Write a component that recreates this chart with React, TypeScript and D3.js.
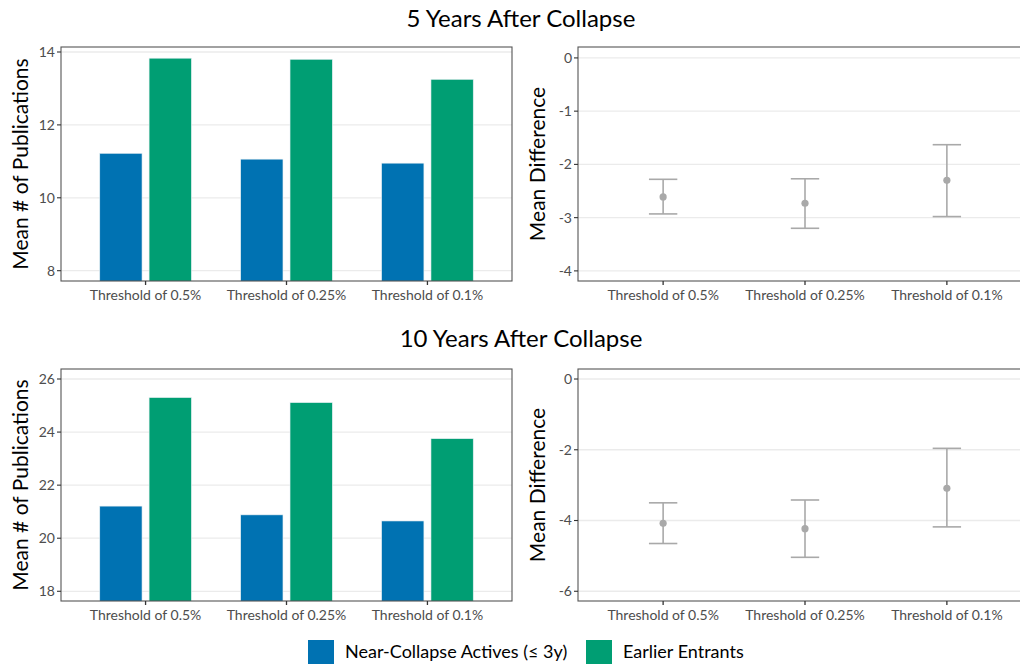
import React from 'react';
import * as d3 from 'd3';

// categories and series
const thresholds = ['Threshold of 0.5%', 'Threshold of 0.25%', 'Threshold of 0.1%'];
const groups = ['Near-Collapse Actives (≤ 3y)', 'Earlier Entrants'];
const groupColors = ['#0072B2', '#009E73'];

// 5 years after collapse
const nearActives5 = [11.22, 11.06, 10.95];
const earlier5 = [13.83, 13.8, 13.25];
const diff5 = [-2.61, -2.73, -2.3];
const diff5Low = [-2.93, -3.2, -2.98];
const diff5High = [-2.28, -2.27, -1.63];
const barTicks5 = [8, 10, 12, 14];
const diffTicks5 = [0, -1, -2, -3, -4];

// 10 years after collapse
const nearActives10 = [21.21, 20.88, 20.65];
const earlier10 = [25.3, 25.11, 23.75];
const diff10 = [-4.08, -4.23, -3.09];
const diff10Low = [-4.65, -5.04, -4.18];
const diff10High = [-3.5, -3.42, -1.96];
const barTicks10 = [18, 20, 22, 24, 26];
const diffTicks10 = [0, -2, -4, -6];

const FONT = 'Lato, "Open Sans", sans-serif';
const GRID = '#EBEBEB';
const BORDER = '#555';
const TICK_TXT = '#4D4D4D';
const ERR = '#A9A9A9';

type Box = { x0: number; x1: number; y0: number; y1: number };

const Frame = ({ box, y, ticks, title, children, x }: any) => (
  <g>
    {ticks.map((t: number) => (
      <line key={'g' + t} x1={box.x0} x2={box.x1} y1={y(t)} y2={y(t)} stroke={GRID} strokeWidth={1.3} />
    ))}
    {children}
    <rect x={box.x0} y={box.y0} width={box.x1 - box.x0} height={box.y1 - box.y0} fill="none" stroke={BORDER} strokeWidth={1.1} />
    {ticks.map((t: number) => (
      <g key={'t' + t}>
        <line x1={box.x0 - 4} x2={box.x0} y1={y(t)} y2={y(t)} stroke="#333" strokeWidth={1.1} />
        <text x={box.x0 - 6} y={y(t)} dy="0.35em" textAnchor="end" fontSize={14} fill={TICK_TXT} fontFamily={FONT}>
          {t}
        </text>
      </g>
    ))}
    {thresholds.map((c) => (
      <g key={c}>
        <line x1={x(c)} x2={x(c)} y1={box.y1} y2={box.y1 + 4} stroke="#333" strokeWidth={1.3} />
        <text x={x(c)} y={box.y1 + 19} textAnchor="middle" fontSize={14} fill={TICK_TXT} fontFamily={FONT}>
          {c}
        </text>
      </g>
    ))}
    <text
      transform={`translate(${box.x0 - 33},${(box.y0 + box.y1) / 2}) rotate(-90)`}
      textAnchor="middle"
      fontSize={21}
      fill="#000"
      fontFamily={FONT}
    >
      {title}
    </text>
  </g>
);

const BarPanel = ({ box, a, b, domain, ticks }: { box: Box; a: number[]; b: number[]; domain: number[]; ticks: number[] }) => {
  const x = d3.scalePoint<string>().domain(thresholds).range([box.x0, box.x1]).padding(0.6);
  const y = d3.scaleLinear().domain(domain).range([box.y1, box.y0]);
  const step = x.step();
  const offsets = [-0.175, 0.175];
  const barW = 0.3 * step;
  const clipId = `clip-${box.x0}-${box.y0}`;
  return (
    <Frame box={box} y={y} ticks={ticks} title="Mean # of Publications" x={x}>
      <clipPath id={clipId}>
        <rect x={box.x0} y={box.y0} width={box.x1 - box.x0} height={box.y1 - box.y0} />
      </clipPath>
      <g clipPath={`url(#${clipId})`}>
        {[a, b].map((vals, gi) =>
          vals.map((v, i) => {
            const cx = (x(thresholds[i]) as number) + offsets[gi] * step;
            return (
              <rect
                key={gi + '-' + i}
                x={cx - barW / 2}
                y={y(v)}
                width={barW}
                height={box.y1 + 10 - y(v)}
                fill={groupColors[gi]}
                stroke="#e6eef2"
                strokeWidth={0.6}
              />
            );
          })
        )}
      </g>
    </Frame>
  );
};

const DiffPanel = ({ box, mid, lo, hi, domain, ticks }: { box: Box; mid: number[]; lo: number[]; hi: number[]; domain: number[]; ticks: number[] }) => {
  const x = d3.scalePoint<string>().domain(thresholds).range([box.x0, box.x1]).padding(0.6);
  const y = d3.scaleLinear().domain(domain).range([box.y1, box.y0]);
  const capW = 0.2 * x.step();
  return (
    <Frame box={box} y={y} ticks={ticks} title="Mean Difference" x={x}>
      {mid.map((v, i) => {
        const cx = x(thresholds[i]) as number;
        return (
          <g key={i}>
            <line x1={cx} x2={cx} y1={y(lo[i])} y2={y(hi[i])} stroke={ERR} strokeWidth={1.6} />
            <line x1={cx - capW / 2} x2={cx + capW / 2} y1={y(lo[i])} y2={y(lo[i])} stroke={ERR} strokeWidth={1.6} />
            <line x1={cx - capW / 2} x2={cx + capW / 2} y1={y(hi[i])} y2={y(hi[i])} stroke={ERR} strokeWidth={1.6} />
            <circle cx={cx} cy={y(v)} r={3.6} fill={ERR} />
          </g>
        );
      })}
    </Frame>
  );
};

export default function App() {
  const topL = { x0: 61, x1: 512, y0: 47, y1: 281 };
  const topR = { x0: 578, x1: 1032, y0: 47, y1: 281 };
  const botL = { x0: 61, x1: 512, y0: 369, y1: 601 };
  const botR = { x0: 578, x1: 1032, y0: 369, y1: 601 };
  return (
    <svg width={1020} height={666} style={{ position: 'absolute', left: 0, top: 0, background: '#fff' }}>
      <rect width={1020} height={666} fill="#fff" />
      <text x={521} y={27} textAnchor="middle" fontSize={24} fontFamily={FONT} fill="#000">
        5 Years After Collapse
      </text>
      <text x={521} y={347} textAnchor="middle" fontSize={24} fontFamily={FONT} fill="#000">
        10 Years After Collapse
      </text>
      <BarPanel box={topL} a={nearActives5} b={earlier5} domain={[7.717, 14.137]} ticks={barTicks5} />
      <DiffPanel box={topR} mid={diff5} lo={diff5Low} hi={diff5High} domain={[-4.19, 0.205]} ticks={diffTicks5} />
      <BarPanel box={botL} a={nearActives10} b={earlier10} domain={[17.634, 26.377]} ticks={barTicks10} />
      <DiffPanel box={botR} mid={diff10} lo={diff10Low} hi={diff10High} domain={[-6.275, 0.283]} ticks={diffTicks10} />
      {/* legend */}
      {groups.map((g, i) => {
        const kx = [308, 586][i];
        return (
          <g key={g}>
            <rect x={kx} y={640} width={26} height={24} fill={groupColors[i]} />
            <text x={kx + 37} y={658} fontSize={18} fontFamily={FONT} fill="#000">
              {g}
            </text>
          </g>
        );
      })}
    </svg>
  );
}
